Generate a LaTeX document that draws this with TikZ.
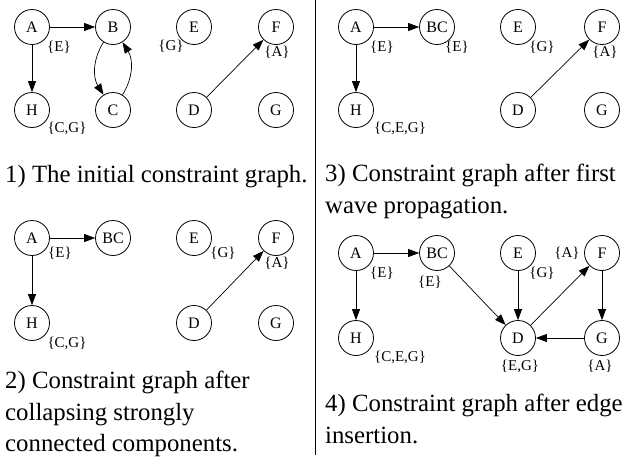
\documentclass[tikz,border=0pt]{standalone}
\usepackage{fontspec}
\setmainfont{Liberation Serif}
\usetikzlibrary{arrows.meta}

\begin{document}
\begin{tikzpicture}[x=1pt, y=-1pt,
      vtx/.style={draw, circle, line width=0.8pt, minimum size=35pt, inner sep=0pt, font=\fontsize{16}{18}\selectfont},
      lbl/.style={inner sep=0pt, font=\fontsize{15}{17}\selectfont},
      captxt/.style={inner sep=0pt, anchor=north west, align=left, font=\fontsize{24.8}{31.5}\selectfont},
      arr/.style={-{Triangle[length=11pt, width=8pt]}, line width=0.7pt}
    ]
    \useasboundingbox (0,0) rectangle (634,459);
    \draw[line width=0.8pt] (315,0) -- (315,455);

    % 1) initial graph
    \node[vtx] (a1) at (32,27) {A};
    \node[vtx] (b1) at (113,27) {B};
    \node[vtx] (e1) at (194,27) {E};
    \node[vtx] (f1) at (276,27) {F};
    \node[vtx] (h1) at (32,110) {H};
    \node[vtx] (c1) at (113,110) {C};
    \node[vtx] (d1) at (194,110) {D};
    \node[vtx] (g1) at (276,110) {G};
    \node[lbl] (la1) at (59,47) {\{E\}};
    \node[lbl] (le1) at (171,46) {\{G\}};
    \node[lbl] (lf1) at (277,52) {\{A\}};
    \node[lbl] (lh1) at (67,128) {\{C,G\}};
    \draw[arr] (a1) -- (b1); \draw[arr] (a1) -- (h1);
    \draw[arr] (b1) to[bend right=32] (c1); \draw[arr] (c1) to[bend right=32] (b1);
    \draw[arr] (d1) -- (f1);
    \node[captxt] (t1) at (5,165) {1) The initial constraint graph.};

    % 2) collapsed components
    \node[vtx] (a2) at (32,238) {A};
    \node[vtx] (bc2) at (113,238) {BC};
    \node[vtx] (e2) at (194,238) {E};
    \node[vtx] (f2) at (276,238) {F};
    \node[vtx] (h2) at (32,323) {H};
    \node[vtx] (d2) at (194,323) {D};
    \node[vtx] (g2) at (276,323) {G};
    \node[lbl] (la2) at (60,253) {\{E\}};
    \node[lbl] (le2) at (223,253) {\{G\}};
    \node[lbl] (lf2) at (277,263) {\{A\}};
    \node[lbl] (lh2) at (67,343) {\{C,G\}};
    \draw[arr] (a2) -- (bc2); \draw[arr] (a2) -- (h2);
    \draw[arr] (d2) -- (f2);
    \node[captxt] (t2) at (5,371) {2) Constraint graph after\\collapsing strongly\\connected components.};

    % 3) first wave
    \node[vtx] (a3) at (356,27) {A};
    \node[vtx] (bc3) at (437,27) {BC};
    \node[vtx] (e3) at (518,27) {E};
    \node[vtx] (f3) at (602,27) {F};
    \node[vtx] (h3) at (356,110) {H};
    \node[vtx] (d3) at (518,110) {D};
    \node[vtx] (g3) at (602,110) {G};
    \node[lbl] (la3) at (382,47) {\{E\}};
    \node[lbl] (lbc3) at (457,47) {\{E\}};
    \node[lbl] (le3) at (542,47) {\{G\}};
    \node[lbl] (lf3) at (605,52) {\{A\}};
    \node[lbl] (lh3) at (400,128) {\{C,E,G\}};
    \draw[arr] (a3) -- (bc3); \draw[arr] (a3) -- (h3);
    \draw[arr] (d3) -- (f3);
    \node[captxt] (t3) at (325,164) {3) Constraint graph after first\\wave propagation.};

    % 4) edge insertion
    \node[vtx] (a4) at (356,253) {A};
    \node[vtx] (bc4) at (437,253) {BC};
    \node[vtx] (e4) at (518,253) {E};
    \node[vtx] (f4) at (602,253) {F};
    \node[vtx] (h4) at (356,338) {H};
    \node[vtx] (d4) at (518,338) {D};
    \node[vtx] (g4) at (602,338) {G};
    \node[lbl] (la4) at (382,273) {\{E\}};
    \node[lbl] (lbc4) at (430,282) {\{E\}};
    \node[lbl] (le4) at (542,273) {\{G\}};
    \node[lbl] (lf4) at (567,253) {\{A\}};
    \node[lbl] (lh4) at (400,357) {\{C,E,G\}};
    \node[lbl] (ld4) at (520,366) {\{E,G\}};
    \node[lbl] (lg4) at (600,366) {\{A\}};
    \draw[arr] (a4) -- (bc4); \draw[arr] (a4) -- (h4);
    \draw[arr] (bc4) -- (d4); \draw[arr] (e4) -- (d4);
    \draw[arr] (d4) -- (f4); \draw[arr] (f4) -- (g4);
    \draw[arr] (g4) -- (d4);
    \node[captxt] (t4) at (325,394) {4) Constraint graph after edge\\insertion.};
\end{tikzpicture}
\end{document}
